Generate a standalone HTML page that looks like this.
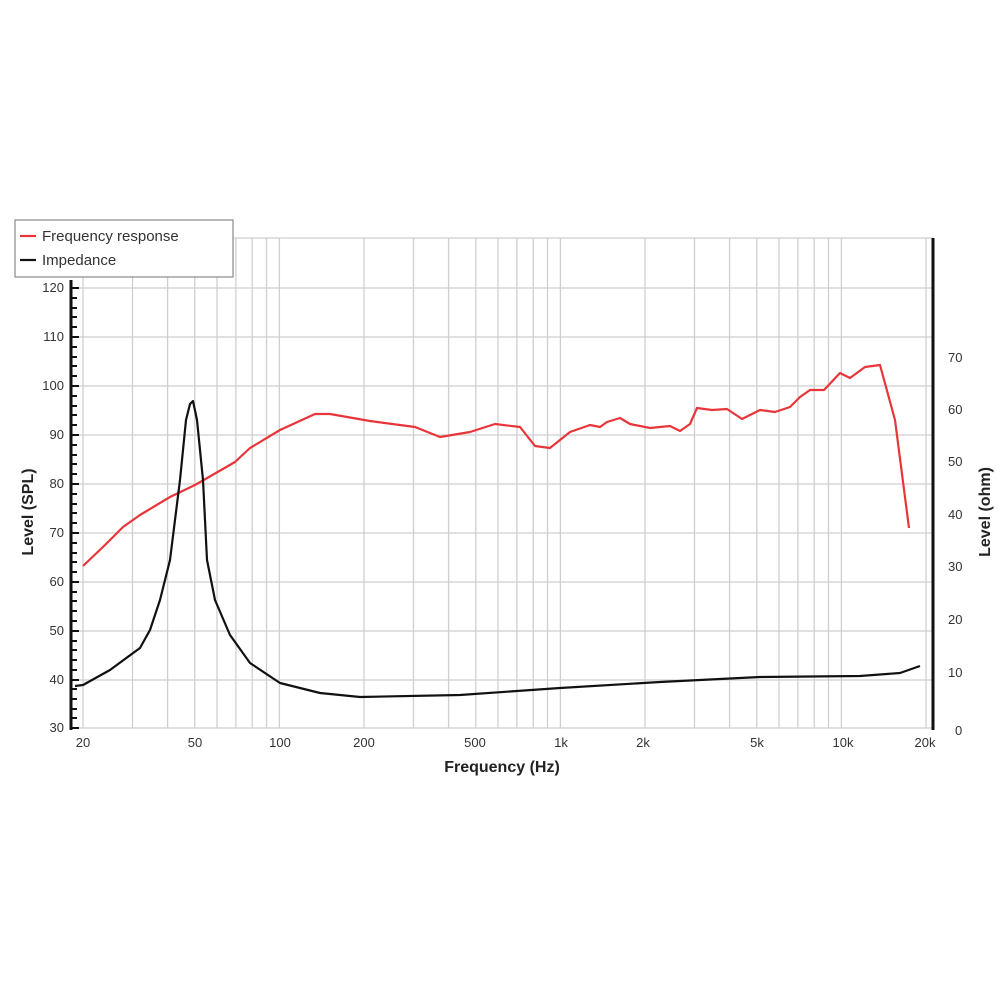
<!DOCTYPE html>
<html><head><style>body{margin:0;background:#fff}svg text{font-family:"Liberation Sans",sans-serif}</style></head><body>
<svg width="1000" height="1000" viewBox="0 0 1000 1000" xmlns="http://www.w3.org/2000/svg">
<g stroke="#cfcfcf" stroke-width="1.3" fill="none">
<path d="M83,238V728M132.5,238V728M167.6,238V728M194.8,238V728M217,238V728M235.9,238V728M252.2,238V728M266.5,238V728M279.4,238V728M364,238V728M413.5,238V728M448.6,238V728M475.8,238V728M498,238V728M516.9,238V728M533.2,238V728M547.5,238V728M560.4,238V728M645,238V728M694.5,238V728M729.6,238V728M756.8,238V728M779,238V728M797.9,238V728M814.2,238V728M828.5,238V728M841.4,238V728M926,238V728"/>
<path d="M71,238H933M71,288H933M71,337H933M71,386H933M71,435H933M71,484H933M71,533H933M71,582H933M71,631H933M71,680H933M71,728H933"/>
</g>
<path d="M71,280V730M933,238V730" stroke="#111" stroke-width="3"/>
<g stroke="#111" stroke-width="2">
<path d="M71,728h8M71,718h6M71,709h6M71,699h6M71,689h6M71,680h8M71,670h6M71,660h6M71,650h6M71,641h6M71,631h8M71,621h6M71,611h6M71,601h6M71,592h6M71,582h8M71,572h6M71,562h6M71,553h6M71,543h6M71,533h8M71,523h6M71,513h6M71,504h6M71,494h6M71,484h8M71,474h6M71,464h6M71,455h6M71,445h6M71,435h8M71,425h6M71,415h6M71,406h6M71,396h6M71,386h8M71,376h6M71,366h6M71,357h6M71,347h6M71,337h8M71,327h6M71,317h6M71,308h6M71,298h6M71,288h8"/>
</g>
<path d="M83,566L105,545L123,527L140,515L170,497L195,485L235,462L250,448L280,430L315,414L330,414L370,421L415,427L440,437L470,432L495,424L520,427L535,446L550,448L570,432L590,425L600,427L607,422L620,418L630,424L650,428L670,426L680,431L690,424L697,408L712,410L727,409L742,419L760,410L775,412L790,407L800,397L810,390L824,390L840,373L850,378L865,367L880,365L895,420L909,528" fill="none" stroke="#e8353a" stroke-width="2.2" stroke-linejoin="round"/>
<path d="M75,686L83,685L110,670L140,648L150,630L160,600L170,560L180,480L186,420L190,404L193,401L197,420L203,480L207,560L215,600L230,635L250,663L280,683L320,693L360,697L460,695L560,688L660,682L760,677L860,676L900,673L920,666" fill="none" stroke="#111" stroke-width="2.2" stroke-linejoin="round"/>
<g font-size="13" fill="#333" text-anchor="end">
<text x="64" y="292">120</text><text x="64" y="341">110</text><text x="64" y="390">100</text><text x="64" y="439">90</text><text x="64" y="488">80</text><text x="64" y="537">70</text><text x="64" y="586">60</text><text x="64" y="635">50</text><text x="64" y="684">40</text><text x="64" y="732">30</text>
</g>
<g font-size="13" fill="#333">
<text x="948" y="362">70</text><text x="948" y="414">60</text><text x="948" y="466">50</text><text x="948" y="519">40</text><text x="948" y="571">30</text><text x="948" y="624">20</text><text x="948" y="677">10</text><text x="955" y="735">0</text>
</g>
<g font-size="13" fill="#333" text-anchor="middle">
<text x="83" y="747">20</text><text x="195" y="747">50</text><text x="280" y="747">100</text><text x="364" y="747">200</text><text x="475" y="747">500</text><text x="561" y="747">1k</text><text x="643" y="747">2k</text><text x="757" y="747">5k</text><text x="843" y="747">10k</text><text x="925" y="747">20k</text>
</g>
<text x="502" y="772" font-size="16" font-weight="bold" text-anchor="middle" fill="#222">Frequency (Hz)</text>
<text transform="translate(33,512) rotate(-90)" font-size="16" font-weight="bold" text-anchor="middle" fill="#222">Level (SPL)</text>
<text transform="translate(990,512) rotate(-90)" font-size="16" font-weight="bold" text-anchor="middle" fill="#222">Level (ohm)</text>
<rect x="15" y="220" width="218" height="57" fill="#fff" stroke="#888" stroke-width="1.2"/>
<path d="M20,236H36" stroke="#e8353a" stroke-width="2.2"/>
<path d="M20,260H36" stroke="#111" stroke-width="2.2"/>
<text x="42" y="241" font-size="15" fill="#333">Frequency response</text>
<text x="42" y="265" font-size="15" fill="#333">Impedance</text>
</svg>
</body></html>
